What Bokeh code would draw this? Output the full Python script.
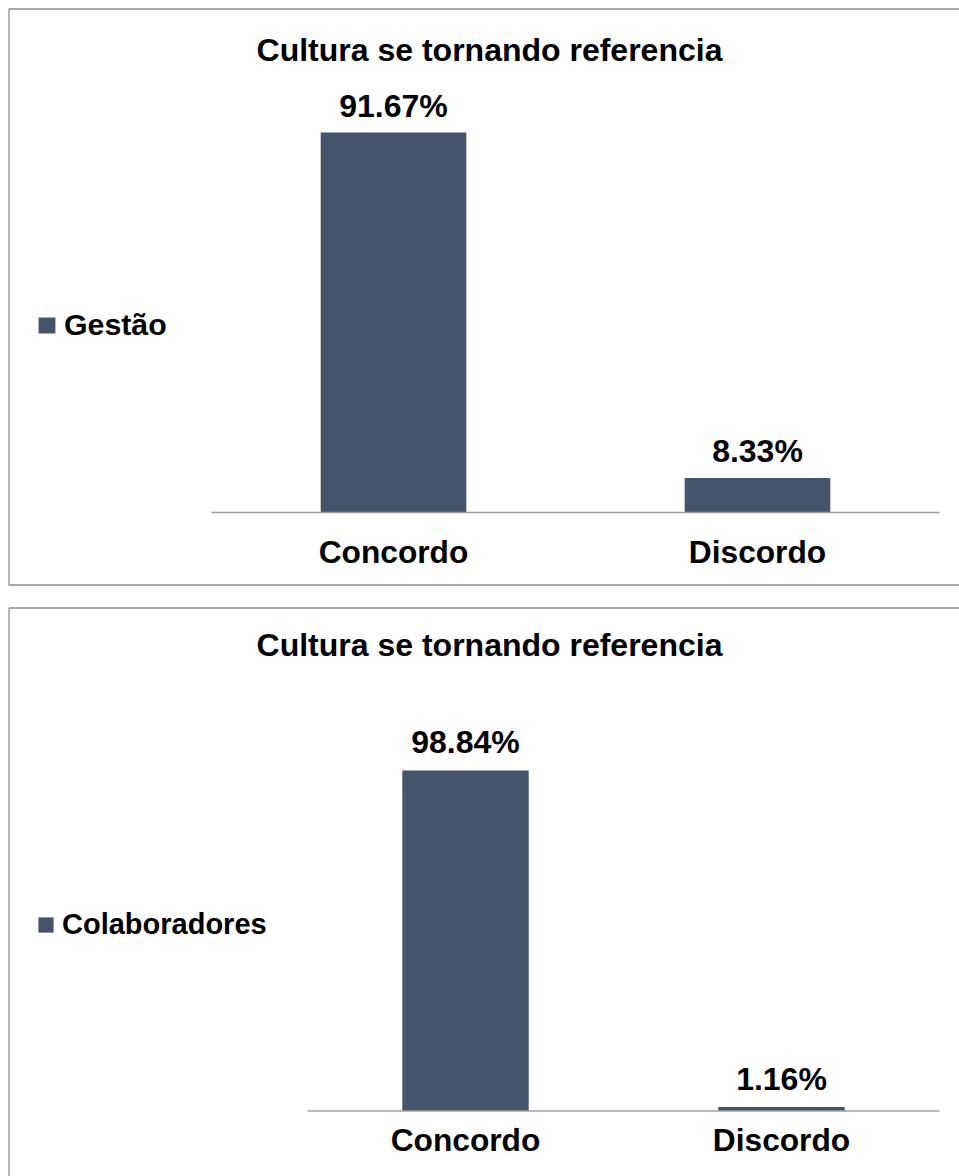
from bokeh.plotting import figure
from bokeh.models import Range1d, Legend, LegendItem, ColumnDataSource
from bokeh.layouts import column
from bokeh.embed import file_html
from bokeh.resources import INLINE
from bokeh.core.properties import value

# ---- data ----
title_text = "Cultura se tornando referencia"
categories = ["Concordo", "Discordo"]
gestao_values = [91.67, 8.33]
colab_values = [98.84, 1.16]
series_names = ["Gestão", "Colaboradores"]

BAR = "#44546a"
BORDER = "#8c8c8c"
AXIS = "#a0a0a0"
FONT = value("Liberation Sans")
W = 959


def make_chart(values, name, H, base, scale, cx0, unit, title_base, lab_gap, cat_gap,
               leg_x, leg_vy, glyph_w, glyph_h, leg_font, border_top, border_bottom):
    X = lambda px: (px - cx0) / unit
    Y = lambda py: (base - py) / scale
    p = figure(width=W, height=H, output_backend="svg", toolbar_location=None,
               x_range=Range1d(X(0), X(W)), y_range=Range1d(Y(H), Y(0)),
               min_border=0, x_axis_location=None, y_axis_location=None,
               outline_line_color=None, background_fill_color="white",
               border_fill_color="white")
    p.xgrid.visible = False
    p.ygrid.visible = False

    idx = list(range(len(categories)))
    src = ColumnDataSource(dict(x=idx, top=values, cat=categories,
                                lab=[f"{v:.2f}%" for v in values]))
    r = p.vbar(x="x", top="top", bottom=0, width=0.4, source=src,
               fill_color=BAR, line_color=None)

    # category axis line
    p.segment(x0=-0.5, y0=0, x1=len(categories) - 0.5, y1=0,
              line_color=AXIS, line_width=1.5)

    # value labels
    p.text(x="x", y="top", text="lab", source=src, text_align="center",
           text_baseline="alphabetic", y_offset=-lab_gap, text_font=FONT,
           text_font_style="bold", text_font_size="32px", text_color="black")
    # category labels
    p.text(x="x", y=0, text="cat", source=src, text_align="center",
           text_baseline="alphabetic", y_offset=cat_gap, text_font=FONT,
           text_font_style="bold", text_font_size="31.7px", text_color="black")
    # title
    p.text(x=[X(489)], y=[Y(title_base)], text=[title_text], text_align="center",
           text_baseline="alphabetic", text_font=FONT, text_font_style="bold",
           text_font_size="32px", text_color="black")

    # chart border (left, top, bottom; right side lies beyond the page)
    bx = [X(W + 20), X(8.5), X(8.5)]
    by = [Y(border_top), Y(border_top)]
    if border_bottom is None:
        by.append(Y(H + 20))
    else:
        by.append(Y(border_bottom))
        bx.append(X(W + 20))
        by.append(Y(border_bottom))
    p.line(x=bx, y=by, line_color=BORDER, line_width=1.3)

    legend = Legend(items=[LegendItem(label=name, renderers=[r])],
                    location=(leg_x, leg_vy), border_line_color=None,
                    background_fill_alpha=0, padding=0, margin=0, spacing=0,
                    glyph_width=glyph_w, glyph_height=glyph_h, label_standoff=7,
                    label_text_font="Liberation Sans", label_text_font_style="bold",
                    label_text_font_size=leg_font, label_text_color="black")
    p.add_layout(legend)
    return p


H1, H2 = 596, 580
p1 = make_chart(gestao_values, series_names[0], H1, base=512, scale=4.145,
                cx0=393, unit=364, title_base=49.5, lab_gap=27, cat_gap=39,
                leg_x=36, leg_vy=H1 - 318 - 34 + 10, glyph_w=21, glyph_h=20,
                leg_font="30.3px", border_top=8.5, border_bottom=584.5)
p2 = make_chart(colab_values, series_names[1], H2, base=514.5, scale=3.445,
                cx0=465, unit=316, title_base=48.5, lab_gap=28, cat_gap=29,
                leg_x=36, leg_vy=H2 - 322 - 34 + 11, glyph_w=19, glyph_h=19,
                leg_font="29px", border_top=11.5, border_bottom=None)

layout = column(p1, p2, spacing=0)
open("out.html", "w").write(file_html(layout, INLINE))
